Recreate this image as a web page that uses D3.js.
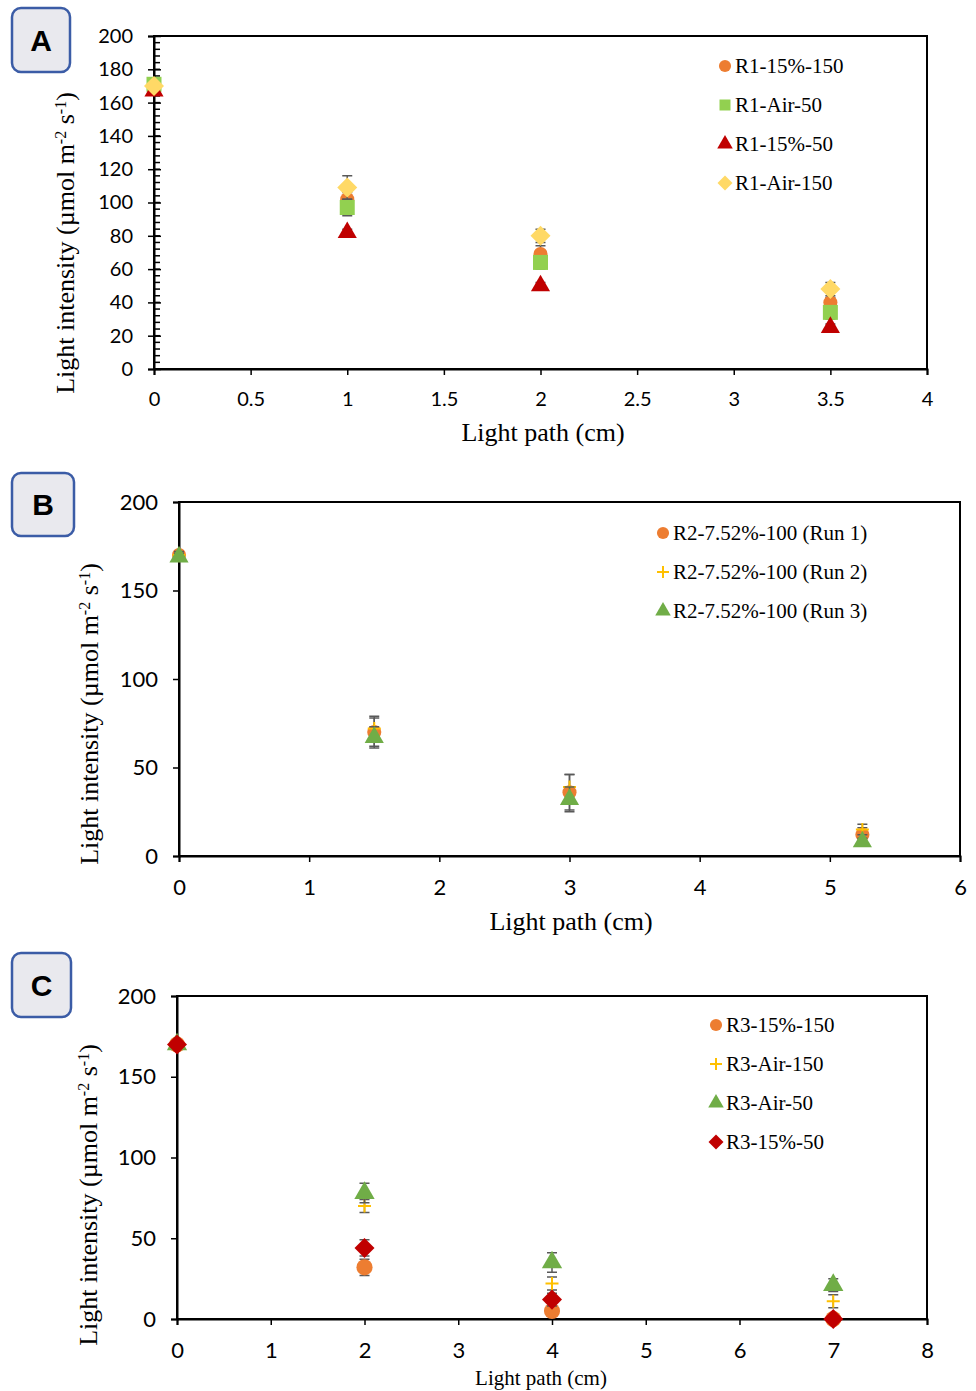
<!DOCTYPE html>
<html>
<head>
<meta charset="utf-8">
<script src="https://cdn.jsdelivr.net/npm/d3@7"></script>
<style>
  body { margin: 0; background: #fff; }
  svg { display: block; }
</style>
</head>
<body>
<svg id="chart" width="976" height="1391"></svg>
<script>
// ---- data ----
const xA = [0, 1, 2, 3.5];
const aR1_15_150 = [168, 102, 69, 40];
const aR1_15_150Err = [2, 4, 5, 3];
const aR1_Air_50 = [171, 97, 64, 34];
const aR1_Air_50Err = [2, 5, 4, 4];
const aR1_15_50 = [167, 82, 50, 25];
const aR1_15_50Err = [2, 2, 2, 2];
const aR1_Air_150 = [170, 109, 80, 48];
const aR1_Air_150Err = [2, 7, 4, 4];
const xTicksA = [0, 0.5, 1, 1.5, 2, 2.5, 3, 3.5, 4];
const yTicksA = [0, 20, 40, 60, 80, 100, 120, 140, 160, 180, 200];

const xB = [0, 1.5, 3, 5.25];
const bRun1 = [170, 70, 36, 12];
const bRun1Err = [2, 8, 10, 4];
const bRun2 = [170, 72, 39, 15];
const bRun2Err = [2, 7, 7, 3];
const bRun3 = [169, 67, 32, 8];
const bRun3Err = [2, 6, 7, 2];
const xTicksB = [0, 1, 2, 3, 4, 5, 6];
const yTicksB = [0, 50, 100, 150, 200];

const xC = [0, 2, 4, 7];
const cR3_15_150 = [170, 32, 5, 0];
const cR3_15_150Err = [1, 5, 2, 0];
const cR3_Air_150 = [170, 70, 22, 11];
const cR3_Air_150Err = [1, 4, 4, 4];
const cR3_Air_50 = [170, 78, 35, 21];
const cR3_Air_50Err = [1, 6, 6, 4];
const cR3_15_50 = [170, 44, 12, 0];
const cR3_15_50Err = [1, 5, 4, 0];
const xTicksC = [0, 1, 2, 3, 4, 5, 6, 7, 8];
const yTicksC = [0, 50, 100, 150, 200];

const serif = '"Liberation Serif", "Times New Roman", serif';
const sans = 'Lato, "Liberation Sans", sans-serif';

const svg = d3.select('#chart');

function marker(g, shape, color, size) {
    let sym;
    if (shape === 'plus') {
        const h = size / 2;
        g.append('path')
            .attr('d', `M${-h},0H${h}M0,${-h}V${h}`)
            .attr('stroke', color)
            .attr('stroke-width', 2)
            .attr('fill', 'none');
        return;
    }
    if (shape === 'circle') sym = d3.symbolCircle;
    if (shape === 'square') sym = d3.symbolSquare;
    if (shape === 'triangle') sym = d3.symbolTriangle;
    if (shape === 'diamond') sym = d3.symbolDiamond2;
    g.append('path')
        .attr('d', d3.symbol().type(sym).size(size * size * (shape === 'circle' ? 0.8 : shape === 'triangle' ? 0.62 : 1))())
        .attr('fill', color);
}

function drawPanel(p) {
    const x = d3.scaleLinear().domain([0, p.xMax]).range([p.left, p.right]);
    const y = d3.scaleLinear().domain([0, 200]).range([p.bottom, p.top]);
    const g = svg.append('g');

    // frame
    g.append('rect')
        .attr('x', p.left).attr('y', p.top)
        .attr('width', p.right - p.left).attr('height', p.bottom - p.top)
        .attr('fill', 'none').attr('stroke', '#000').attr('stroke-width', 2);

    // axes
    const yAxis = d3.axisLeft(y).tickValues(p.yTicks).tickSize(6).tickFormat(d3.format('d'));
    const yg = g.append('g').attr('transform', `translate(${p.left},0)`).call(yAxis);
    const xAxis = d3.axisBottom(x).tickValues(p.xTicks).tickSize(6).tickFormat(d => String(d));
    const xg = g.append('g').attr('transform', `translate(0,${p.bottom})`).call(xAxis);
    [yg, xg].forEach(a => {
        a.select('.domain').attr('stroke', '#000').attr('stroke-width', 2);
        a.selectAll('.tick line').attr('stroke', '#000').attr('stroke-width', 1.5);
        a.selectAll('.tick text').attr('fill', '#000')
            .style('font-family', sans).style('font-size', p.tickSize + 'px');
    });
    yg.selectAll('.tick text').attr('x', -21);
    xg.selectAll('.tick text').attr('y', 23);

    if (p.minor) {
        // minor ticks inside the y axis, major ticks crossing
        const minor = d3.range(0, 200 + 0.001, p.minor);
        g.append('g').selectAll('line').data(minor).join('line')
            .attr('x1', p.left).attr('x2', p.left + 6)
            .attr('y1', d => y(d)).attr('y2', d => y(d))
            .attr('stroke', '#000').attr('stroke-width', 1.5);
        yg.selectAll('.tick line').attr('x2', -6).attr('x1', 7);
    }

    // series
    p.series.forEach(s => {
        const sg = g.append('g');
        s.values.forEach((v, i) => {
            const e = s.err[i];
            const cx = x(p.xs[i]);
            if (e > 0) {
                sg.append('path')
                    .attr('d', `M${cx - 5},${y(v + e)}H${cx + 5}M${cx},${y(v + e)}V${y(v - e)}M${cx - 5},${y(v - e)}H${cx + 5}`)
                    .attr('stroke', '#595959').attr('stroke-width', 1.5).attr('fill', 'none');
            }
        });
        s.values.forEach((v, i) => {
            const m = sg.append('g').attr('transform', `translate(${x(p.xs[i])},${y(v)})`);
            marker(m, s.shape, s.color, s.size);
        });
    });

    // legend
    const lg = g.append('g');
    p.series.forEach((s, i) => {
        const ly = p.legendY + i * 39;
        const m = lg.append('g').attr('transform', `translate(${p.legendX},${ly})`);
        marker(m, s.shape, s.color, s.legendSize);
        lg.append('text')
            .attr('x', p.legendX + 10).attr('y', ly).attr('dy', '0.35em')
            .style('font-family', serif).style('font-size', '21px')
            .text(s.name);
    });

    // axis titles
    g.append('text')
        .attr('x', p.xTitleX).attr('y', p.xTitleY)
        .attr('text-anchor', 'middle')
        .style('font-family', serif).style('font-size', p.xTitleSize + 'px')
        .text('Light path (cm)');

    const yt = g.append('text')
        .attr('transform', `translate(${p.yTitleX},${p.yTitleCY}) rotate(-90)`)
        .attr('text-anchor', 'middle')
        .style('font-family', serif).style('font-size', '26px');
    yt.append('tspan').text('Light intensity (\u00b5mol m');
    yt.append('tspan').attr('baseline-shift', 'super').style('font-size', '16px').text('-2');
    yt.append('tspan').text(' s');
    yt.append('tspan').attr('baseline-shift', 'super').style('font-size', '16px').text('-1');
    yt.append('tspan').text(')');

    // panel letter box
    g.append('rect')
        .attr('x', p.box[0]).attr('y', p.box[1]).attr('width', p.box[2]).attr('height', p.box[3])
        .attr('rx', 9).attr('fill', '#e9e9ee').attr('stroke', '#3b5ca6').attr('stroke-width', 2.5);
    g.append('text')
        .attr('x', p.box[0] + p.box[2] / 2).attr('y', p.box[1] + p.box[3] / 2).attr('dy', '0.36em')
        .attr('text-anchor', 'middle')
        .style('font-family', '"Liberation Sans", Arial, sans-serif').style('font-weight', 'bold').style('font-size', '30px')
        .text(p.letter);
}

drawPanel({
    letter: 'A', box: [12, 8, 58, 64],
    left: 154, right: 927, top: 36, bottom: 369,
    xMax: 4, xTicks: xTicksA, yTicks: yTicksA, minor: 4, tickSize: 20,
    xs: xA,
    xTitleX: 543, xTitleY: 441, xTitleSize: 26, yTitleX: 74, yTitleCY: 243,
    legendX: 725, legendY: 66,
    series: [
        { name: 'R1-15%-150', values: aR1_15_150, err: aR1_15_150Err, shape: 'circle', color: '#ed7d31', size: 14, legendSize: 12 },
        { name: 'R1-Air-50', values: aR1_Air_50, err: aR1_Air_50Err, shape: 'square', color: '#92d050', size: 15, legendSize: 11 },
        { name: 'R1-15%-50', values: aR1_15_50, err: aR1_15_50Err, shape: 'triangle', color: '#c00000', size: 16, legendSize: 13 },
        { name: 'R1-Air-150', values: aR1_Air_150, err: aR1_Air_150Err, shape: 'diamond', color: '#ffd966', size: 16, legendSize: 12 }
    ]
});

drawPanel({
    letter: 'B', box: [12, 473, 62, 63],
    left: 179, right: 960, top: 502, bottom: 856,
    xMax: 6, xTicks: xTicksB, yTicks: yTicksB, tickSize: 22,
    xs: xB,
    xTitleX: 571, xTitleY: 930, xTitleSize: 26, yTitleX: 98, yTitleCY: 714,
    legendX: 663, legendY: 533,
    series: [
        { name: 'R2-7.52%-100 (Run 1)', values: bRun1, err: bRun1Err, shape: 'circle', color: '#ed7d31', size: 14, legendSize: 12 },
        { name: 'R2-7.52%-100 (Run 2)', values: bRun2, err: bRun2Err, shape: 'plus', color: '#ffc000', size: 13, legendSize: 12 },
        { name: 'R2-7.52%-100 (Run 3)', values: bRun3, err: bRun3Err, shape: 'triangle', color: '#70ad47', size: 16, legendSize: 13 }
    ]
});

drawPanel({
    letter: 'C', box: [12, 953, 59, 64],
    left: 177, right: 927, top: 996, bottom: 1319,
    xMax: 8, xTicks: xTicksC, yTicks: yTicksC, tickSize: 22,
    xs: xC,
    xTitleX: 541, xTitleY: 1385, xTitleSize: 21, yTitleX: 97, yTitleCY: 1195,
    legendX: 716, legendY: 1025,
    series: [
        { name: 'R3-15%-150', values: cR3_15_150, err: cR3_15_150Err, shape: 'circle', color: '#ed7d31', size: 16, legendSize: 12 },
        { name: 'R3-Air-150', values: cR3_Air_150, err: cR3_Air_150Err, shape: 'plus', color: '#ffc000', size: 13, legendSize: 12 },
        { name: 'R3-Air-50', values: cR3_Air_50, err: cR3_Air_50Err, shape: 'triangle', color: '#70ad47', size: 17, legendSize: 13 },
        { name: 'R3-15%-50', values: cR3_15_50, err: cR3_15_50Err, shape: 'diamond', color: '#c00000', size: 16, legendSize: 12 }
    ]
});
</script>
</body>
</html>
